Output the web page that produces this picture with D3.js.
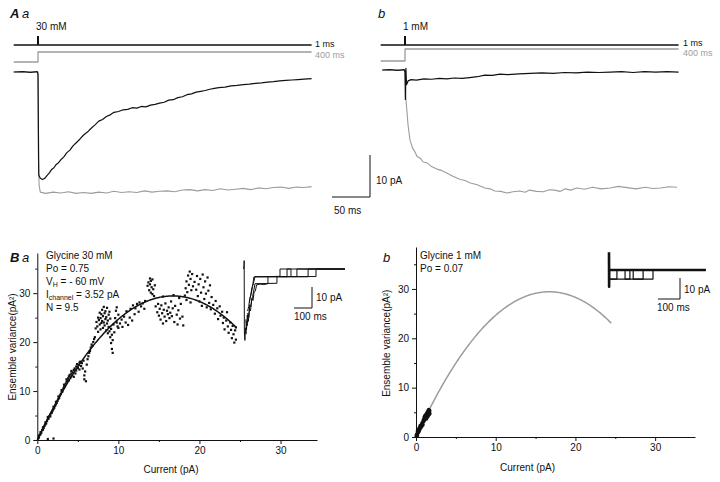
<!DOCTYPE html>
<html>
<head>
<meta charset="utf-8">
<script src="https://cdn.jsdelivr.net/npm/d3@7"></script>
<style>
  body { margin: 0; background: #fff; }
  svg { display: block; font-family: "Liberation Sans", Arial, sans-serif; }
  .axis text { font-size: 10px; fill: #111; }
  .axis path, .axis line { stroke: #111; }
</style>
</head>
<body>
<script>
// ---- data (time in ms, current in pA, variance in pA^2) ----
const gray = '#9c9c9c'

// A a : 30 mM glycine, 1 ms pulse (black) and 400 ms step (gray)
const aaPulse = [[-32,0],[-20,0.1],[-10,-0.1],[-1,0.1],[0,-0.5],[1,-24.5],[3,-25.3],[6,-25.6],[9,-25.3],[12,-24.6],[15,-24.0],[18,-23.2],[21,-22.8],[24,-22.0],[27,-21.6],[30,-20.9],[34,-20.2],[38,-19.2],[42,-18.6],[46,-17.6],[50,-16.9],[55,-16.0],[60,-15.0],[65,-14.3],[70,-13.4],[75,-12.6],[80,-11.7],[85,-11.3],[90,-10.6],[95,-10.2],[100,-9.6],[106,-9.4],[112,-9.0],[118,-8.9],[124,-8.5],[130,-8.6],[136,-8.2],[142,-8.3],[148,-7.9],[154,-7.7],[160,-7.4],[166,-7.2],[172,-6.7],[178,-6.6],[184,-6.1],[190,-5.9],[196,-5.4],[202,-5.2],[208,-4.8],[214,-4.6],[220,-4.4],[226,-4.1],[232,-3.9],[238,-3.7],[246,-3.6],[254,-3.3],[262,-3.2],[270,-3.0],[278,-2.9],[286,-2.7],[294,-2.6],[302,-2.4],[310,-2.3],[318,-2.1],[326,-2.0],[334,-1.9],[342,-1.8],[350,-1.7],[360,-1.6]]
const aaStep = [[-32,0],[0,0],[0.5,-20],[1.5,-27],[3,-28.6],[10,-28.9],[20,-28.6],[30,-28.8],[40,-28.5],[50,-28.9],[60,-28.7],[70,-28.9],[80,-28.6],[90,-28.8],[100,-28.4],[110,-28.7],[120,-28.5],[130,-28.7],[140,-28.3],[150,-28.6],[160,-28.4],[170,-28.3],[180,-28.5],[190,-28.1],[200,-28.0],[210,-28.3],[220,-28.0],[230,-28.2],[240,-27.8],[250,-28.1],[260,-27.9],[270,-27.7],[280,-28.0],[290,-27.6],[300,-27.8],[310,-27.5],[320,-27.4],[330,-27.7],[340,-27.4],[350,-27.5],[360,-27.3]]

// A b : 1 mM glycine
const abPulse = [[-30,0],[-20,0.1],[-10,-0.1],[-1,0.1],[0,-0.5],[0.5,-7.0],[1.2,0.4],[2,-3.5],[4,-2.6],[8,-2.3],[15,-2.4],[25,-2.1],[35,-2.2],[45,-2.0],[55,-2.1],[65,-1.9],[75,-2.0],[85,-1.8],[95,-1.6],[105,-1.2],[115,-1.3],[125,-1.0],[135,-1.1],[150,-0.9],[165,-0.8],[180,-0.7],[195,-0.8],[210,-0.6],[225,-0.7],[240,-0.5],[255,-0.6],[270,-0.5],[285,-0.4],[300,-0.6],[315,-0.4],[330,-0.5],[345,-0.4],[360,-0.5]]
const abStep = [[-30,0],[0,0],[1.3,-7.1],[4,-13.1],[6.6,-16.7],[10,-18.6],[13,-19.5],[16,-20.6],[20,-21.0],[24,-21.9],[29,-22.1],[35,-23.0],[42,-23.6],[48,-23.9],[55,-24.5],[63,-25.3],[72,-26.0],[79,-26.3],[86,-26.9],[95,-27.3],[105,-28.1],[112,-28.3],[118,-28.8],[126,-28.9],[134,-29.3],[142,-29.0],[151,-28.8],[158,-29.1],[164,-28.6],[173,-28.9],[182,-29.0],[190,-28.5],[197,-28.6],[204,-28.9],[211,-28.3],[218,-28.6],[226,-28.1],[236,-28.4],[247,-27.9],[258,-28.3],[270,-28.1],[281,-27.7],[292,-28.0],[304,-28.3],[316,-27.9],[326,-28.2],[336,-28.1],[347,-27.8],[358,-27.9]]

// B a : ensemble variance vs mean current, 30 mM
const iChannel = 3.52
const nChannels = 9.5
const baPoints = [[0.1,0.3],[0.2,0.5],[0.2,0.9],[0.3,1.0],[0.4,1.2],[0.4,1.6],[0.5,1.5],[0.6,2.0],[0.7,2.1],[0.7,2.6],[0.8,2.5],[0.9,2.9],[1.0,3.2],[1.0,3.6],[1.1,3.4],[1.2,3.9],[1.3,4.3],[1.3,4.7],[1.4,4.4],[1.5,4.9],[1.6,5.2],[1.6,4.8],[1.7,5.5],[1.8,5.6],[1.9,6.0],[2.0,6.3],[2.0,6.8],[2.1,6.6],[2.2,7.0],[2.3,7.3],[2.3,7.8],[2.4,7.6],[2.5,8.0],[2.6,8.4],[2.6,8.9],[2.7,8.6],[2.8,9.1],[2.9,9.4],[3.0,9.8],[3.0,10.2],[3.1,9.9],[3.2,10.5],[3.3,10.8],[3.3,11.3],[3.4,11.0],[3.5,11.5],[3.6,11.9],[3.6,12.4],[3.7,12.1],[3.8,12.6],[3.9,13.0],[3.9,12.2],[4.0,13.3],[4.1,12.8],[4.2,13.6],[4.2,14.1],[4.3,13.2],[4.4,13.8],[4.5,14.3],[4.5,12.9],[4.6,14.6],[4.7,13.6],[4.8,15.0],[4.8,14.2],[4.9,15.5],[5.0,14.7],[5.1,15.3],[5.2,15.8],[5.2,14.4],[5.3,16.0],[5.4,15.1],[5.5,15.7],[5.6,14.6],[5.7,16.2],[5.8,13.2],[5.8,12.4],[5.9,14.0],[6.0,12.0],[6.1,15.4],[6.2,16.5],[6.3,17.1],[6.4,17.8],[6.5,18.2],[6.6,18.9],[6.7,19.5],[6.8,19.2],[6.9,20.0],[7.0,20.6],[7.1,21.0],[1.3,0.2],[2.0,0.3],
  [7.2,22.8],[7.3,24.1],[7.4,23.2],[7.5,25.0],[7.5,22.1],[7.6,24.5],[7.7,23.6],[7.7,26.0],[7.8,22.6],[7.8,24.9],[7.9,25.7],[7.9,23.9],[8.0,24.3],[8.0,26.6],[8.1,22.9],[8.1,25.3],[8.2,24.0],[8.2,27.2],[8.3,23.4],[8.3,25.9],[8.4,24.7],[8.4,26.3],[8.5,22.4],[8.5,25.1],[8.6,23.8],[8.6,27.0],[8.7,24.4],[8.7,21.8],[8.8,25.6],[8.8,23.1],[8.9,22.2],[8.9,26.2],[9.0,21.0],[9.0,24.8],[9.1,19.8],[9.1,22.7],[9.2,18.6],[9.2,21.5],[9.3,17.8],[9.3,20.4],[9.4,23.6],[9.5,22.0],[9.6,24.9],[9.7,26.4],[9.8,27.1],[9.8,24.0],[9.9,23.2],[10.0,25.6],[10.0,22.9],
  [10.2,23.8],[10.4,24.6],[10.5,23.1],[10.7,25.2],[10.9,24.0],[11.0,26.3],[11.2,23.5],[11.4,25.0],[11.5,26.8],[11.7,24.4],[11.8,27.5],[12.0,25.7],[12.1,26.9],[12.3,27.8],[12.5,26.2],[12.6,28.1],[12.8,27.3],[13.0,27.9],[13.2,26.8],[13.3,28.4],
  [13.6,31.5],[13.7,32.2],[13.8,30.6],[13.9,31.8],[13.9,33.0],[14.0,30.1],[14.0,32.5],[14.1,31.2],[14.2,29.8],[14.2,32.8],[14.3,30.8],[14.4,29.4],[14.5,31.6],
  [14.6,27.3],[14.8,26.1],[14.9,27.8],[15.0,25.4],[15.1,26.8],[15.2,24.6],[15.3,27.5],[15.4,25.9],[15.5,23.8],[15.6,26.6],[15.7,25.2],[15.8,27.9],[15.9,24.3],[16.0,26.4],[16.1,25.7],[16.2,27.1],[16.3,24.9],[16.4,26.0],[16.5,28.3],[16.6,25.3],[16.7,26.9],[16.9,24.1],[17.0,27.4],[17.2,25.6],[17.3,23.6],[17.4,26.5],[17.6,24.8],[17.7,27.8],[17.9,25.2],[18.0,23.4],[15.5,29.3],[16.8,29.6],[17.5,29.0],
  [18.2,29.5],[18.3,31.0],[18.4,32.4],[18.5,30.2],[18.6,33.6],[18.7,31.7],[18.8,34.4],[18.9,32.9],[19.0,30.6],[19.1,33.9],[19.2,31.4],[18.4,28.6],[18.9,28.1],
  [19.4,32.3],[19.6,30.7],[19.7,33.5],[19.8,29.4],[19.9,31.8],[20.0,28.3],[20.1,32.9],[20.2,30.1],[20.3,27.4],[20.4,33.8],[20.5,31.2],[20.6,28.8],[20.7,32.4],[20.8,29.9],[20.9,27.1],[21.0,33.2],[21.1,30.5],[21.2,28.0],[21.3,31.6],[21.4,26.7],[21.5,29.2],
  [21.7,27.6],[21.9,25.8],[22.0,28.4],[22.2,26.9],[22.3,24.7],[22.5,27.3],[22.6,25.4],[22.8,26.2],[22.9,23.9],[23.0,25.0],[23.1,22.6],[23.3,24.4],[23.4,26.1],[23.5,23.2],[23.6,21.9],[23.8,24.0],[23.9,22.5],[24.0,20.8],[24.1,23.3],[24.2,21.6],[24.3,19.9],[24.4,22.4],[24.5,20.5],[24.5,23.0]]

// B a inset : single channel sweeps (ms, pA)
const baSweeps = [
  [[-2,0],[0,2],[1,4],[2,-30],[5,-34],[8,-28],[11,-31],[14,-25],[18,-27],[22,-21],[27,-23],[32,-17],[38,-18],[44,-14],[50,-15],[56,-11],[63,-10.5],[70,-7.5],[90,-7.2],[110,-7.4],[133,-7.0],[133,-3.6],[200,-3.5],[200,0],[561,0]],
  [[10,-24],[14,-29],[18,-22],[24,-25],[30,-19],[36,-20],[42,-15],[48,-13],[55,-10],[61,-7],[183,-6.8],[183,-3.6],[239,-3.7],[239,0],[261,0],[261,-3.6],[294,-3.6],[294,0],[561,0]],
  [[20,-20],[26,-18],[32,-14],[40,-12],[48,-8],[55,-3.8],[356,-3.7],[356,0],[561,0]],
  [[30,-16],[36,-13],[44,-9],[52,-7],[61,-3.6],[400,-3.6],[400,0],[561,0]]
]

// B b : 1 mM
const bbPoints = [[0.05,0.2],[0.1,0.5],[0.15,0.3],[0.2,0.8],[0.2,1.2],[0.25,0.9],[0.3,1.4],[0.35,1.1],[0.4,1.7],[0.45,1.5],[0.5,2.0],[0.55,2.3],[0.6,1.9],[0.65,2.4],[0.7,2.2],[0.75,2.6],[0.8,2.9],[0.85,2.5],[0.9,3.1],[0.95,3.5],[1.0,3.3],[1.05,3.9],[1.1,3.6],[1.1,4.2],[1.15,3.8],[1.2,4.4],[1.25,4.0],[1.3,4.6],[1.3,3.7],[1.35,4.3],[1.4,4.9],[1.45,4.1],[1.5,4.7],[1.5,5.2],[1.55,4.4],[1.6,5.0],[1.6,5.5],[1.65,4.6],[1.7,5.3],[1.7,4.8]]
const bbSweeps = [
  [[0,8.5],[0.5,-8],[1,0],[440,0]],
  [[1,-4.3],[36,-4.3],[36,0],[73,0],[73,-4.3],[155,-4.3],[155,0],[440,0]],
  [[1,-4.3],[95,-4.3],[95,0],[110,0],[110,-4.3],[200,-4.3],[200,0],[440,0]]
]

const xTicks = [0, 10, 20, 30]
const yTicks = [0, 10, 20, 30]

// ---- drawing ----
const svg = d3.select('body').append('svg').attr('width', 720).attr('height', 482)

function txt(x, y, s, opt = {}) {
  return svg.append('text').attr('x', x).attr('y', y)
    .style('font-size', (opt.size || 10) + 'px')
    .style('font-style', opt.italic ? 'italic' : null)
    .style('font-weight', opt.bold ? 'bold' : null)
    .attr('fill', opt.color || '#111')
    .attr('text-anchor', opt.anchor || 'start')
    .text(s)
}

function trace(data, x, y, color, w) {
  svg.append('path').datum(data)
    .attr('d', d3.line().x(d => x(d[0])).y(d => y(d[1])))
    .attr('fill', 'none').attr('stroke', color).attr('stroke-width', w)
    .attr('stroke-linejoin', 'round')
}

function stimulus(x, yBlack, yGrayLow, yGrayHigh) {
  trace([[-32, 0], [360, 0]], x, () => yBlack, '#111', 1.6)
  svg.append('line').attr('x1', x(0)).attr('x2', x(0)).attr('y1', yBlack - 9).attr('y2', yBlack)
    .attr('stroke', '#111').attr('stroke-width', 2)
  const ys = d3.scaleLinear().domain([0, 1]).range([yGrayLow, yGrayHigh])
  trace([[-32, 0], [0, 0], [0, 1], [360, 1]], x, ys, gray, 1.3)
}

// panel A a
const xAa = d3.scaleLinear().domain([0, 360]).range([38, 38 + 360 * 0.76])
const yAa = d3.scaleLinear().domain([0, -10]).range([72, 114])
stimulus(xAa, 45, 62, 52)
trace(aaStep, xAa, yAa, gray, 1.1)
trace(aaPulse, xAa, yAa, '#111', 1.2)
txt(10, 18, 'A', { size: 13, italic: true, bold: true })
txt(22, 18, 'a', { size: 13, italic: true })
txt(36, 30, '30 mM')
txt(315, 47, '1 ms', { size: 9 })
txt(315, 57.5, '400 ms', { size: 9, color: gray })

// scale bar A
const sbx = 370, sby = 197
svg.append('path')
  .attr('d', `M${sbx - (xAa(50) - xAa(0))},${sby}H${sbx}V${sby - (yAa(-10) - yAa(0))}`)
  .attr('fill', 'none').attr('stroke', '#111').attr('stroke-width', 1)
txt(376, 184, '10 pA')
txt(334, 214, '50 ms')

// panel A b
const xAb = d3.scaleLinear().domain([0, 360]).range([405, 405 + 360 * 0.76])
const yAb = d3.scaleLinear().domain([0, -10]).range([70, 112])
stimulus(xAb, 45, 61, 49)
trace(abStep, xAb, yAb, gray, 1.1)
trace(abPulse, xAb, yAb, '#111', 1.2)
txt(378, 18, 'b', { size: 13, italic: true })
txt(403, 30, '1 mM')
txt(683, 46, '1 ms', { size: 9 })
txt(683, 56, '400 ms', { size: 9, color: gray })

// variance panels
function varPanel(x, y) {
  const gx = svg.append('g').attr('class', 'axis').attr('transform', `translate(0,${y(0)})`)
  gx.call(d3.axisBottom(x).tickValues(xTicks).tickSize(4).tickSizeOuter(0).tickPadding(3))
  gx.append('g').call(d3.axisBottom(x).tickValues([5, 15, 25]).tickSize(2).tickFormat(''))
    .select('.domain').remove()
  const gy = svg.append('g').attr('class', 'axis').attr('transform', `translate(${x(0)},0)`)
  gy.call(d3.axisLeft(y).tickValues(yTicks).tickSize(4).tickSizeOuter(0).tickPadding(3))
  gy.append('g').call(d3.axisLeft(y).tickValues([5, 15, 25, 35]).tickSize(2).tickFormat(''))
    .select('.domain').remove()
}

const parabola = d3.range(0, 24.55, 0.1).map(c => [c, iChannel * c - c * c / nChannels])

// B a
const xBa = d3.scaleLinear().domain([0, 34.5]).range([37.3, 317])
const yBa = d3.scaleLinear().domain([0, 38.2]).range([440, 253])
varPanel(xBa, yBa)
svg.append('g').selectAll('rect').data(baPoints).join('rect')
  .attr('x', d => xBa(d[0]) - 1.1).attr('y', d => yBa(d[1]) - 1.1)
  .attr('width', 2.2).attr('height', 2.2).attr('fill', '#111')
trace(parabola, xBa, yBa, '#111', 1.5)
txt(10, 262, 'B', { size: 13, italic: true, bold: true })
txt(22, 262, 'a', { size: 13, italic: true })
txt(46, 259, 'Glycine 30 mM')
txt(46, 272, 'Po = 0.75')
const vh = txt(46, 285, 'V')
vh.append('tspan').attr('dy', 2).style('font-size', '7px').text('H')
vh.append('tspan').attr('dy', -2).text(' = - 60 mV')
const ich = txt(46, 298, 'I')
ich.append('tspan').attr('dy', 2).style('font-size', '7px').text('channel')
ich.append('tspan').attr('dy', -2).text(' = 3.52 pA')
txt(46, 311, 'N = 9.5')
txt(xBa(16.5), 473, 'Current (pA)', { anchor: 'middle' })
txt(0, 0, 'Ensemble variance(pA²)', { anchor: 'middle' })
  .attr('transform', `translate(16,${yBa(19)}) rotate(-90)`)

// B a inset
const xIa = d3.scaleLinear().domain([0, 100]).range([244, 262])
const yIa = d3.scaleLinear().domain([0, -10]).range([269, 290])
baSweeps.forEach(s => trace(s, xIa, yIa, '#111', 1))
svg.append('path').attr('d', `M294,308H312V${308 - (yIa(-10) - yIa(0))}`)
  .attr('fill', 'none').attr('stroke', '#111')
txt(316, 301, '10 pA')
txt(294, 320, '100 ms')

// B b
const xBb = d3.scaleLinear().domain([0, 35]).range([416, 695])
const yBb = d3.scaleLinear().domain([0, 38.5]).range([437, 247])
varPanel(xBb, yBb)
trace(parabola, xBb, yBb, gray, 1.5)
svg.append('g').selectAll('circle').data(bbPoints).join('circle')
  .attr('cx', d => xBb(d[0])).attr('cy', d => yBb(d[1])).attr('r', 2).attr('fill', '#111')
txt(383, 262, 'b', { size: 13, italic: true })
txt(420, 259, 'Glycine 1 mM')
txt(420, 272, 'Po = 0.07')
txt(xBb(14), 471, 'Current (pA)', { anchor: 'middle' })
txt(0, 0, 'Ensemble variance(pA²)', { anchor: 'middle' })
  .attr('transform', `translate(390,${yBb(19)}) rotate(-90)`)

// B b inset
const xIb = d3.scaleLinear().domain([0, 100]).range([609, 631])
const yIb = d3.scaleLinear().domain([0, -10]).range([270, 291])
bbSweeps.forEach((s, i) => trace(s, xIb, yIb, '#111', i === 0 ? 2.6 : 1.2))
svg.append('path').attr('d', `M658,299H680V${299 - (yIb(-10) - yIb(0))}`)
  .attr('fill', 'none').attr('stroke', '#111')
txt(684, 293, '10 pA')
txt(657, 311, '100 ms')
</script>
</body>
</html>
